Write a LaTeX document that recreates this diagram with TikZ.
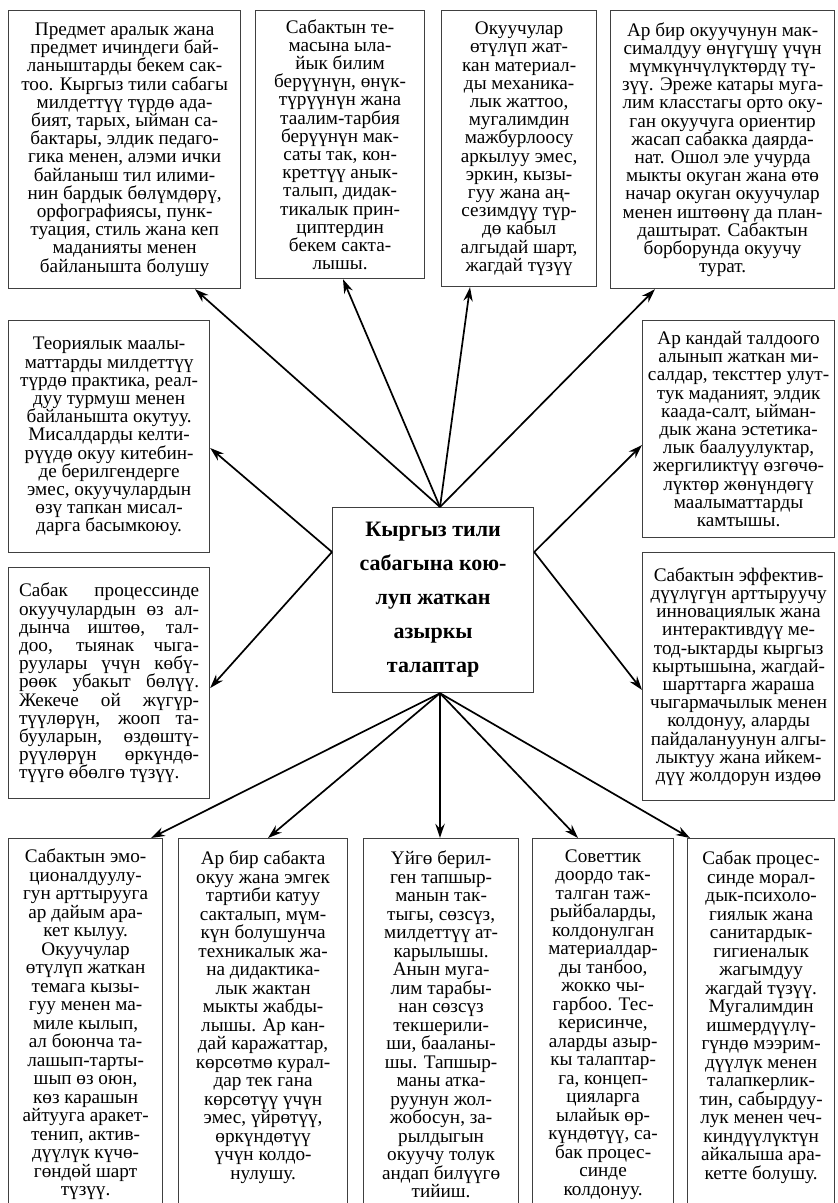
\documentclass[tikz,border=0pt]{standalone}
\usepackage{fontspec}
\setmainfont{Liberation Serif}
\usetikzlibrary{arrows.meta}
\tikzset{
  box/.style={draw=black!75,line width=.6pt,anchor=north west,align=center,inner sep=0pt,
    font=\fontsize{9.6}{9.1}\selectfont},
  lowbox/.style={box,font=\fontsize{9.6}{9.25}\selectfont,minimum height=186pt},
  arr/.style={-{Stealth[length=7pt,width=4.6pt]},line width=.85pt},
}
\newcommand{\jline}[1]{\makebox[90pt][s]{#1}}
\begin{document}
\begin{tikzpicture}[x=.5pt,y=-.5pt]
\useasboundingbox (0,0) rectangle (838,1203);
% top row
\node[box,minimum width=116pt,minimum height=139pt] (t1) at (8,10) {Предмет аралык жана\\ предмет ичиндеги бай-\\ ланыштарды бекем сак-\\ тоо. Кыргыз тили сабагы\\ милдеттүү түрдө ада-\\ бият, тарых, ыйман са-\\ бактары, элдик педаго-\\ гика менен, алэми ички\\ байланыш тил илими-\\ нин бардык бөлүмдөрү,\\ орфографиясы, пунк-\\ туация, стиль жана кеп\\ маданияты менен\\ байланышта болушу};
\node[box,minimum width=84.5pt,minimum height=134pt] (t2) at (255,10) {Сабактын те-\\ масына ыла-\\ йык билим\\ берүүнүн, өнүк-\\ түрүүнүн жана\\ таалим-тарбия\\ берүүнүн мак-\\ саты так, кон-\\ креттүү анык-\\ талып, дидак-\\ тикалык прин-\\ циптердин\\ бекем сакта-\\ лышы.};
\node[box,minimum width=77.5pt,minimum height=138pt] (t3) at (441,10) {Окуучулар\\ өтүлүп жат-\\ кан материал-\\ ды механика-\\ лык жаттоо,\\ мугалимдин\\ мажбурлоосу\\ аркылуу эмес,\\ эркин, кызы-\\ гуу жана аң-\\ сезимдүү түр-\\ дө кабыл\\ алгыдай шарт,\\ жагдай түзүү};
\node[box,minimum width=112pt,minimum height=139pt] (t4) at (610,10) {Ар бир окуучунун мак-\\ сималдуу өнүгүшү үчүн\\ мүмкүнчүлүктөрдү тү-\\ зүү. Эреже катары муга-\\ лим класстагы орто оку-\\ ган окуучуга ориентир\\ жасап сабакка даярда-\\ нат. Ошол эле учурда\\ мыкты окуган жана өтө\\ начар окуган окуучулар\\ менен иштөөнү да план-\\ даштырат. Сабактын\\ борборунда окуучу\\ турат.};
% sides
\node[box,minimum width=100.5pt,minimum height=116pt] (l1) at (8,320) {Теориялык маалы-\\ маттарды милдеттүү\\ түрдө практика, реал-\\ дуу турмуш менен\\ байланышта окутуу.\\ Мисалдарды келти-\\ рүүдө окуу китебин-\\ де берилгендерге\\ эмес, окуучулардын\\ өзү тапкан мисал-\\ дарга басымкоюу.};
\node[box,minimum width=100.5pt,minimum height=115.5pt] (l2) at (8,567) {\jline{Сабак процессинде}\\ \jline{окуучулардын өз ал-}\\ \jline{дынча иштөө, тал-}\\ \jline{доо, тыянак чыга-}\\ \jline{руулары үчүн көбү-}\\ \jline{рөөк убакыт бөлүү.}\\ \jline{Жекече ой жүгүр-}\\ \jline{түүлөрүн, жооп та-}\\ \jline{бууларын, өздөштү-}\\ \jline{рүүлөрүн өркүндө-}\\ \makebox[90pt][l]{түүгө өбөлгө түзүү.}};
\node[box,minimum width=96pt,minimum height=108.5pt] (r1) at (642,320) {Ар кандай талдоого\\ алынып жаткан ми-\\ салдар, тексттер улут-\\ тук маданият, элдик\\ каада-салт, ыйман-\\ дык жана эстетика-\\ лык баалуулуктар,\\ жергиликтүү өзгөчө-\\ лүктөр жөнүндөгү\\ маалыматтарды\\ камтышы.};
\node[box,minimum width=96pt,minimum height=124pt] (r2) at (642,552) {Сабактын эффектив-\\ дүүлүгүн арттыруучу\\ инновациялык жана\\ интерактивдүү ме-\\ тод-ыктарды кыргыз\\ кыртышына, жагдай-\\ шарттарга жараша\\ чыгармачылык менен\\ колдонуу, аларды\\ пайдалануунун алгы-\\ лыктуу жана ийкем-\\ дүү жолдорун издөө};
% center
\node[box,minimum width=100.5pt,minimum height=92.5pt,font=\bfseries\fontsize{11}{17}\selectfont] (c) at (332,507) {Кыргыз тили\\ сабагына кою-\\ луп жаткан\\ азыркы\\ талаптар};
% bottom row
\node[lowbox,minimum width=77pt] (b1) at (8,838) {Сабактын эмо-\\ ционалдуулу-\\ гун арттырууга\\ ар дайым ара-\\ кет кылуу.\\ Окуучулар\\ өтүлүп жаткан\\ темага кызы-\\ гуу менен ма-\\ миле кылып,\\ ал боюнча та-\\ лашып-тарты-\\ шып өз оюн,\\ көз карашын\\ айтууга аракет-\\ тенип, актив-\\ дүүлүк күчө-\\ гөндөй шарт\\ түзүү.};
\node[lowbox,minimum width=84.5pt] (b2) at (178,838) {Ар бир сабакта\\ окуу жана эмгек\\ тартиби катуу\\ сакталып, мүм-\\ күн болушунча\\ техникалык жа-\\ на дидактика-\\ лык жактан\\ мыкты жабды-\\ лышы. Ар кан-\\ дай каражаттар,\\ көрсөтмө курал-\\ дар тек гана\\ көрсөтүү үчүн\\ эмес, үйрөтүү,\\ өркүндөтүү\\ үчүн колдо-\\ нулушу.\\ ~};
\node[lowbox,minimum width=77.5pt] (b3) at (363,838) {Үйгө берил-\\ ген тапшыр-\\ манын так-\\ тыгы, сөзсүз,\\ милдеттүү ат-\\ карылышы.\\ Анын муга-\\ лим тарабы-\\ нан сөзсүз\\ текшерили-\\ ши, бааланы-\\ шы. Тапшыр-\\ маны атка-\\ руунун жол-\\ жобосун, за-\\ рылдыгын\\ окуучу толук\\ андап билүүгө\\ тийиш.};
\node[lowbox,minimum width=70.5pt] (b4) at (532,838) {Советтик\\ доордо так-\\ талган таж-\\ рыйбаларды,\\ колдонулган\\ материалдар-\\ ды танбоо,\\ жокко чы-\\ гарбоо. Тес-\\ керисинче,\\ аларды азыр-\\ кы талаптар-\\ га, концеп-\\ цияларга\\ ылайык өр-\\ күндөтүү, са-\\ бак процес-\\ синде\\ колдонуу.};
\node[lowbox,minimum width=73.5pt] (b5) at (687,838) {Сабак процес-\\ синде морал-\\ дык-психоло-\\ гиялык жана\\ санитардык-\\ гигиеналык\\ жагымдуу\\ жагдай түзүү.\\ Мугалимдин\\ ишмердүүлү-\\ гүндө мээрим-\\ дүүлүк менен\\ талапкерлик-\\ тин, сабырдуу-\\ лук менен чеч-\\ киндүүлүктүн\\ айкалыша ара-\\ кетте болушу.\\ ~};
% arrows
\foreach \n/\x in {t1/195,t2/343,t3/470,t4/655}
  \draw[arr] (c.north -| 440,0) -- (\n.south -| \x,0);
\foreach \n/\y in {l1/448,l2/688}
  \draw[arr] (c.west |- 0,552) -- (\n.east |- 0,\y);
\foreach \n/\y in {r1/445,r2/690}
  \draw[arr] (c.east |- 0,552) -- (\n.west |- 0,\y);
\foreach \n/\x in {b1/151,b2/268,b4/578,b5/690}
  \draw[arr] (c.south -| 440,0) -- (\n.north -| \x,0);
\draw[arr,line width=1.3pt] (c.south -| 440,0) -- (b3.north -| 440,0);
\end{tikzpicture}
\end{document}
